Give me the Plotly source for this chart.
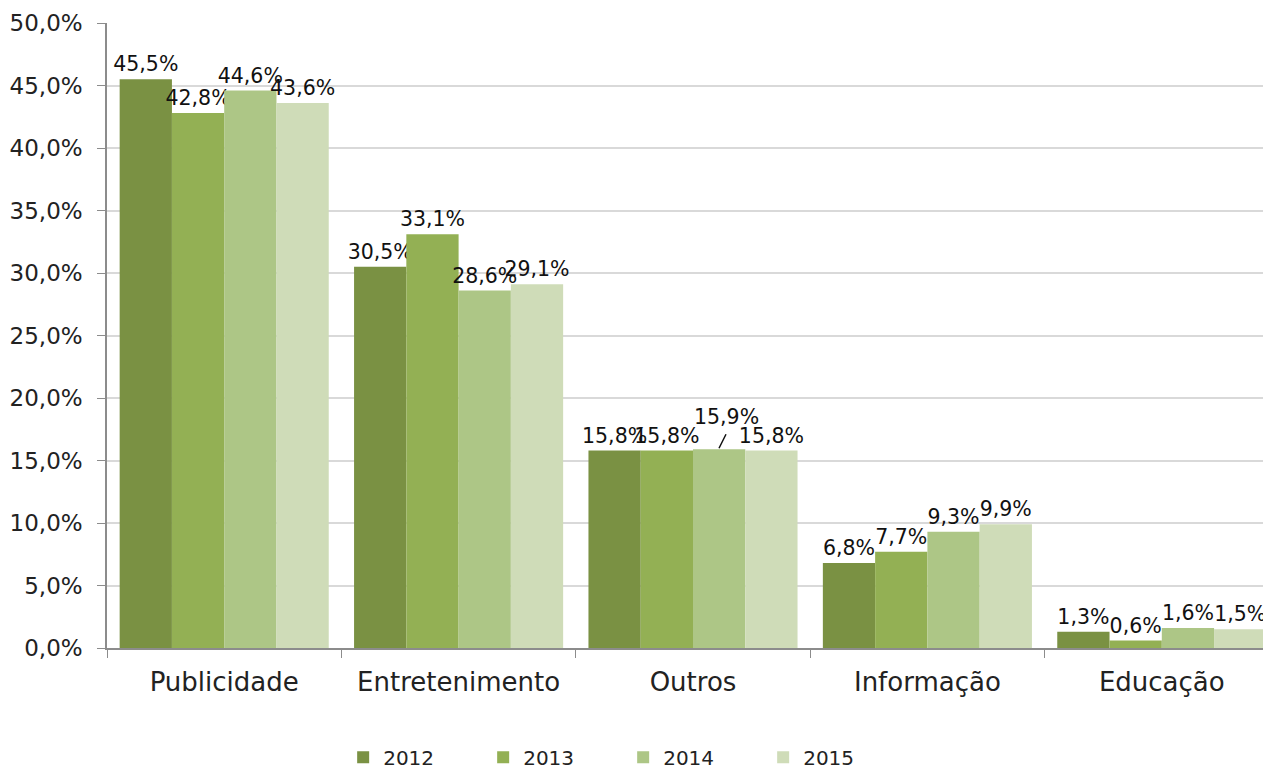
import plotly.graph_objects as go

# categories and values (%)
categories = ["Publicidade", "Entretenimento", "Outros", "Informação", "Educação"]
years = ["2012", "2013", "2014", "2015"]
v2012 = [45.5, 30.5, 15.8, 6.8, 1.3]
v2013 = [42.8, 33.1, 15.8, 7.7, 0.6]
v2014 = [44.6, 28.6, 15.9, 9.3, 1.6]
v2015 = [43.6, 29.1, 15.8, 9.9, 1.5]
colors = ["#7A9143", "#93B054", "#ADC686", "#CFDCB8"]

font_family = "'DejaVu Sans', sans-serif"


def pct(v):
    return f"{v:.1f}%".replace(".", ",")


fig = go.Figure()
for name, vals, col in zip(years, [v2012, v2013, v2014, v2015], colors):
    labels = [pct(v) for v in vals]
    if name == "2014":
        labels[2] = ""  # this one gets a raised label with a leader line
    fig.add_trace(go.Bar(
        x=categories, y=vals, name=name,
        marker=dict(color=col, line=dict(width=0)),
        text=labels,
        textposition="outside",
        constraintext="none",
        cliponaxis=False,
        textfont=dict(size=20.5, color="#111111", family=font_family),
    ))

# raised label for Outros 2014
fig.add_annotation(
    x="Outros", y=v2014[2], xshift=26, yshift=1,
    text=pct(v2014[2]), showarrow=True, arrowhead=0, arrowwidth=1.5,
    arrowcolor="#111111", ax=7, ay=-14, standoff=0, borderpad=4,
    yanchor="bottom", font=dict(size=20.5, color="#111111", family=font_family),
)

fig.update_layout(
    width=1271, height=770,
    margin=dict(l=99, r=0, t=15, b=130),
    paper_bgcolor="white", plot_bgcolor="white",
    barmode="group", bargap=0.108, bargroupgap=0,
    separators=",.",
    font=dict(family=font_family, size=23, color="#222222"),
    showlegend=True,
    legend=dict(orientation="h", x=0.484, xref="container", xanchor="center",
                y=0.027, yref="container", yanchor="middle",
                font=dict(size=20), itemwidth=30, traceorder="normal",
                entrywidth=95),
)
fig.update_yaxes(
    range=[0, 50], dtick=5, tickformat=".1f", ticksuffix="%",
    showgrid=True, gridcolor="#D9D9D9", gridwidth=1.5,
    showline=True, linecolor="#8C8C8C", linewidth=1.5,
    ticks="outside", ticklen=8, tickcolor="#8C8C8C",
    zeroline=False, tickfont=dict(size=23), automargin=False,
    ticklabelstandoff=10,
)
fig.update_xaxes(
    showline=True, linecolor="#8C8C8C", linewidth=1.5,
    ticks="outside", ticklen=8, tickcolor="#8C8C8C", tickson="boundaries",
    tickfont=dict(size=26), automargin=False, ticklabelstandoff=10,
)

fig.write_html("out.html")
